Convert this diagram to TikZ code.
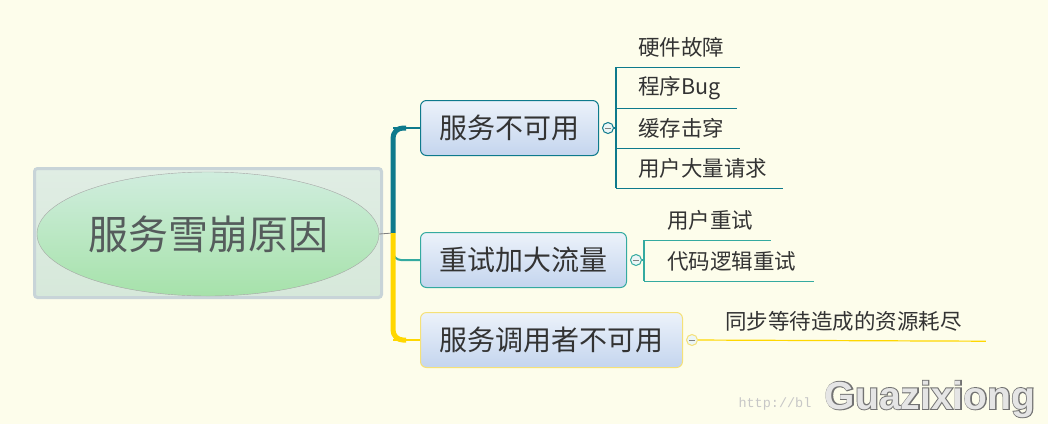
\documentclass[tikz,border=0pt]{standalone}
\usepackage{fontspec}
\newfontfamily\cjk{Noto Sans CJK SC}
\newfontfamily\wmfont{Liberation Sans Bold}
\newfontfamily\wmthick[FakeBold=5]{Liberation Sans Bold}
\newfontfamily\urlfont{Liberation Mono}
\usetikzlibrary{shapes.geometric}

\definecolor{paper}{RGB}{253,253,235}
\definecolor{tealbr}{RGB}{14,122,140}
\definecolor{greenbr}{RGB}{52,170,160}
\definecolor{goldbr}{RGB}{255,215,0}
\definecolor{goldpale}{RGB}{245,225,120}
\definecolor{inkgray}{RGB}{51,51,51}
\definecolor{rootink}{RGB}{85,92,92}
\definecolor{rootedge}{RGB}{200,212,216}
\definecolor{roottop}{RGB}{224,237,228}
\definecolor{rootbot}{RGB}{214,232,218}
\definecolor{elltop}{RGB}{208,237,222}
\definecolor{ellbot}{RGB}{166,226,170}
\definecolor{topictop}{RGB}{236,242,250}
\definecolor{topicbot}{RGB}{196,213,238}
\definecolor{foldfill}{RGB}{236,246,246}

\tikzset{
  topic/.style={draw, rounded corners=6pt, line width=1pt, minimum height=55pt,
    inner xsep=19pt, anchor=west, top color=topictop, bottom color=topicbot,
    text=inkgray, font=\cjk\fontsize{28}{28}\selectfont},
  leaf/.style={anchor=west, inner sep=0pt, minimum height=40pt, text=inkgray,
    font=\cjk\fontsize{21.5}{21.5}\selectfont},
  fold/.style={circle, draw, line width=1pt, minimum size=11pt, inner sep=0pt, fill=foldfill},
  twig/.style={line width=1.2pt},
}

\begin{document}
\begin{tikzpicture}[x=1pt, y=-1pt]
    \fill[paper] (0,0) rectangle (1048,424);
    \useasboundingbox (0,0) rectangle (1048,424);

    % central topic
    \node[draw=rootedge, line width=3pt, rounded corners=3pt, minimum width=347pt,
      minimum height=129pt, top color=roottop, bottom color=rootbot] (rootbox) at (208,233) {};
    \node[ellipse, draw=gray!70, inner sep=0pt, minimum width=342pt, minimum height=124pt,
      top color=elltop, bottom color=ellbot] (root) at (208,234) {};
    \node[text=rootink, font=\cjk\fontsize{40}{40}\selectfont] (title) at (root.center) {服务雪崩原因};

    % main topics
    \node[topic, draw=tealbr] (svc) at (420,128) {服务不可用};
    \node[topic, draw=greenbr] (retry) at (420,260) {重试加大流量};
    \node[topic, draw=goldpale] (caller) at (420,340) {服务调用者不可用};

    \coordinate (trunk) at (393,233);
    \coordinate (fork) at (393,247);
    \draw[gray, line width=0.8pt] (root.east) -- (trunk);
    \draw[greenbr, line width=2pt, rounded corners=8pt] (fork) -- (fork |- retry.west) -- (retry.west);
    \draw[tealbr, line width=5pt, rounded corners=10pt] (trunk) -- (trunk |- svc.west) -- ([xshift=-14pt]svc.west);
    \draw[tealbr, line width=1.5pt] (trunk |- svc.west) -- (svc.west);
    \draw[goldbr, line width=5pt, rounded corners=10pt] (trunk) -- (trunk |- caller.west) -- ([xshift=-14pt]caller.west);
    \draw[goldbr, line width=1.5pt] (trunk |- caller.west) -- (caller.west);

    % fold buttons
    \node[fold, draw=tealbr] (f1) at ([xshift=9pt]svc.east) {};
    \node[fold, draw=greenbr] (f2) at ([xshift=9pt]retry.east) {};
    \node[fold, draw=goldpale] (f3) at ([xshift=9pt]caller.east) {};
    \foreach \f in {f1,f2,f3}
        \draw[gray, line width=1pt] ([xshift=-3pt]\f.center) -- ([xshift=3pt]\f.center);

    % subtopics of svc
    \node[leaf] (hw) at (638,47) {硬件故障};
    \node[leaf] (bug) at (638,88) {程序Bug};
    \node[leaf] (cache) at (638,128) {缓存击穿};
    \node[leaf] (flood) at (638,168) {用户大量请求};
    \coordinate (b1) at ([xshift=2pt]f1.east);
    \draw[tealbr, twig] (f1) -- (b1);
    \draw[tealbr, twig] (b1 |- hw.south) -- (b1 |- flood.south);
    \foreach \n in {hw,bug,cache,flood}
        \draw[tealbr, twig] (b1 |- \n.south) -- ([xshift=16pt]\n.south east);

    % subtopics of retry
    \node[leaf] (usr) at (667,220) {用户重试};
    \node[leaf] (code) at (667,261) {代码逻辑重试};
    \coordinate (b2) at ([xshift=2pt]f2.east);
    \draw[greenbr, twig] (f2) -- (b2);
    \draw[greenbr, twig] (b2 |- usr.south) -- (b2 |- code.south);
    \foreach \n in {usr,code}
        \draw[greenbr, twig] (b2 |- \n.south) -- ([xshift=18pt]\n.south east);

    % subtopic of caller
    \node[leaf] (sync) at (725,321) {同步等待造成的资源耗尽};
    \draw[goldbr, twig] (f3) -- ([xshift=24pt]sync.south east);

    % watermark
    \node[anchor=west, text=black!22, font=\urlfont\fontsize{13.5}{13.5}\selectfont] (url) at (735,404) {http://bl};
    \node[text=black!55, font=\wmthick\fontsize{39}{39}\selectfont] (wmback) at (930,399) {Guazixiong};
    \node[text=black!10, font=\wmfont\fontsize{39}{39}\selectfont] (wm) at (930,399) {Guazixiong};
\end{tikzpicture}
\end{document}
